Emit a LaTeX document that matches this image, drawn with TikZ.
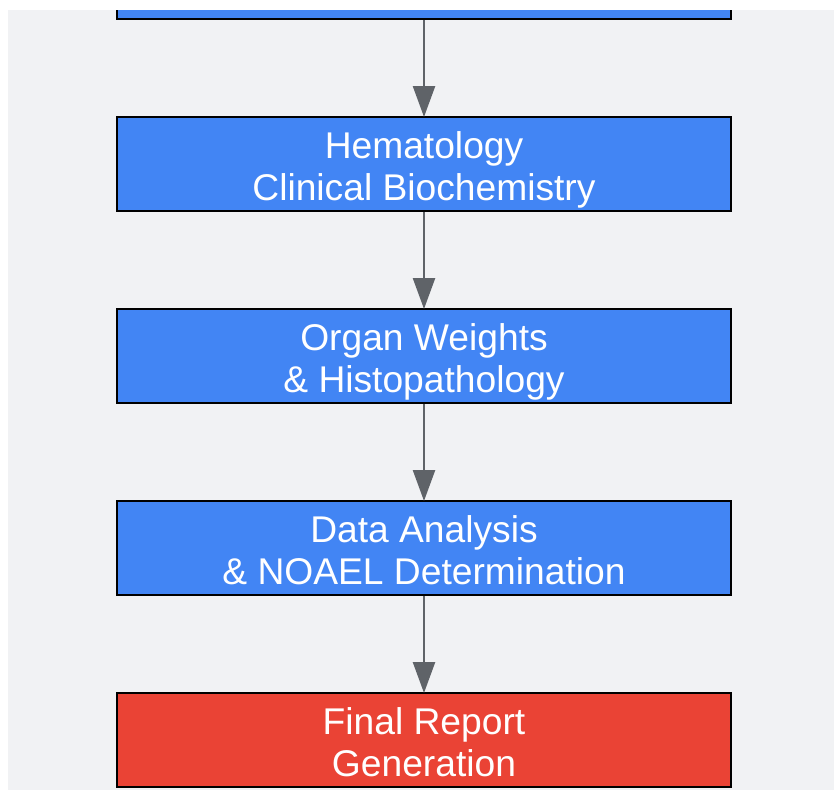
\documentclass[tikz,border=0pt]{standalone}
\usepackage{fontspec}
\setmainfont{Liberation Sans}
\usetikzlibrary{arrows.meta}
\definecolor{bgc}{HTML}{F1F2F4}
\definecolor{bluec}{HTML}{4285F4}
\definecolor{redc}{HTML}{EA4335}
\definecolor{arrc}{HTML}{5F6368}
\tikzset{
  stepbox/.style={draw=black, line width=2pt, fill=bluec,
    minimum width=614pt, minimum height=94pt, inner sep=0pt},
  finalbox/.style={stepbox, fill=redc},
  steptext/.style={text=white, inner sep=0pt, align=center, anchor=base,
    font=\fontsize{37.2}{42}\selectfont},
  flow/.style={draw=arrc, line width=2.5pt, -{Triangle[width=22pt,length=31pt]}, shorten >=-1pt}
}
\begin{document}
\begin{tikzpicture}[x=1pt,y=-1pt]
\useasboundingbox (0,0) rectangle (834,790);
\clip (0,0) rectangle (834,790);
\fill[white] (0,0) rectangle (834,790);
\fill[bgc] (8,10) rectangle (834,790);
\begin{scope}
\clip (0,10) rectangle (834,790);
\node[stepbox] (b1) at (424,-28) {};
\end{scope}
\node[stepbox] (b2) at (424,164) {};
\node[stepbox] (b3) at (424,356) {};
\node[stepbox] (b4) at (424,548) {};
\node[finalbox] (b5) at (424,740) {};
\node[steptext] (t2) at ([yshift=-36.8pt]b2.center) {Hematology\\Clinical Biochemistry};
\node[steptext] (t3) at ([yshift=-36.8pt]b3.center) {Organ Weights\\\& Histopathology};
\node[steptext] (t4) at ([yshift=-36.8pt]b4.center) {Data Analysis\\\& NOAEL Determination};
\node[steptext] (t5) at ([yshift=-36.8pt]b5.center) {Final Report\\Generation};
\draw[flow] (b1.south) -- (b2.north);
\draw[flow] (b2.south) -- (b3.north);
\draw[flow] (b3.south) -- (b4.north);
\draw[flow] (b4.south) -- (b5.north);
\end{tikzpicture}
\end{document}
